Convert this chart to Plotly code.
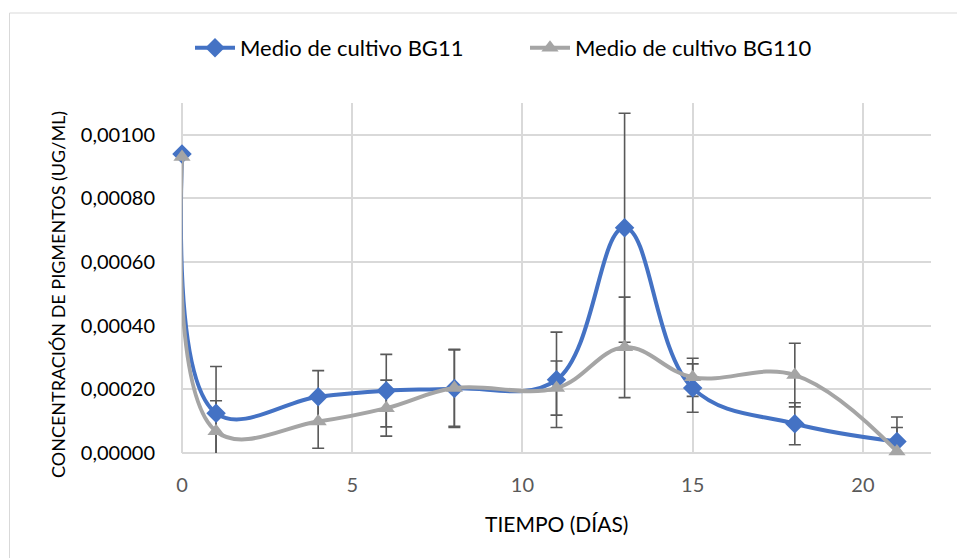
import plotly.graph_objects as go

# ---- data ----
dias = [0, 1, 4, 6, 8, 11, 13, 15, 18, 21]
bg11 = [0.00094, 0.000125, 0.000177, 0.000196, 0.000203, 0.00023, 0.000708, 0.000204, 0.000092, 0.000036]
bg11_err = [0, 0.000147, 0.000082, 0.000114, 0.000123, 0.00015, 0.00036, 0.000076, 0.000066, 0.000077]
bg110 = [0.00093, 0.000068, 0.000099, 0.000141, 0.000204, 0.000204, 0.000332, 0.000238, 0.000245, 0.000005]
bg110_err = [0, 0.000096, 0.000084, 0.000088, 0.00012, 0.000085, 0.000158, 0.00006, 0.0001, 0.000075]

series_names = ["Medio de cultivo BG11", "Medio de cultivo BG110"]
x_title = "TIEMPO (DÍAS)"
y_title = "CONCENTRACIÓN DE PIGMENTOS (UG/ML)"

BLUE = "#4472C4"
GRAY = "#A5A5A5"
ERR = "#595959"
GRID = "#D9D9D9"
FONT = "Lato"
SMOOTH = 1.1

W, H = 957, 558
ML, MR, MT, MB = 182, 26, 103, 105
PW, PH = W - ML - MR, H - MT - MB


def px_x(p):
    return (p - ML) / PW


def px_y(p):
    return (H - MB - p) / PH


fig = go.Figure()

# error bars (clipped to plot area)
for y, e in [(bg11, bg11_err), (bg110, bg110_err)]:
    fig.add_trace(go.Scatter(
        x=dias, y=y, mode="markers",
        marker=dict(size=1, color="rgba(0,0,0,0)"),
        error_y=dict(type="data", array=e, visible=True, color=ERR, thickness=1.6, width=6),
        showlegend=False, hoverinfo="skip", cliponaxis=True,
    ))

fig.add_trace(go.Scatter(
    x=dias, y=bg11, name=series_names[0], mode="lines+markers",
    line=dict(color=BLUE, width=4, shape="spline", smoothing=SMOOTH),
    marker=dict(symbol="diamond", size=15, color=BLUE),
    cliponaxis=False,
))
fig.add_trace(go.Scatter(
    x=dias, y=bg110, name=series_names[1], mode="lines+markers",
    line=dict(color=GRAY, width=4, shape="spline", smoothing=SMOOTH),
    marker=dict(symbol="triangle-up", size=15, color=GRAY),
    cliponaxis=False,
))

fig.update_layout(
    width=W, height=H,
    margin=dict(l=ML, r=MR, t=MT, b=MB),
    paper_bgcolor="white", plot_bgcolor="white",
    separators=",.",
    font=dict(family=FONT, size=20, color="black"),
    legend=dict(
        orientation="h", x=px_x(190), y=px_y(48), xanchor="left", yanchor="middle",
        font=dict(family=FONT, size=22, color="black"), itemwidth=40,
        entrywidth=280, entrywidthmode="pixels",
        bgcolor="rgba(0,0,0,0)",
    ),
    xaxis=dict(
        range=[0, 22], dtick=5, tick0=0,
        showgrid=True, gridcolor=GRID, gridwidth=1.5,
        zeroline=True, zerolinecolor=GRID, zerolinewidth=1.5,
        showline=False, ticks="outside", ticklen=14, tickcolor="rgba(0,0,0,0)",
        tickfont=dict(family=FONT, size=20, color="#595959"),
    ),
    yaxis=dict(
        range=[0, 0.0011], dtick=0.0002, tick0=0, tickformat=".5f",
        showgrid=True, gridcolor=GRID, gridwidth=1.5,
        zeroline=True, zerolinecolor=GRID, zerolinewidth=1.5,
        showline=False, ticks="outside", ticklen=22, tickcolor="rgba(0,0,0,0)",
        tickfont=dict(family=FONT, size=20, color="black"),
    ),
    annotations=[
        dict(text=x_title, xref="paper", yref="paper", x=px_x(556), y=px_y(523),
             xanchor="center", yanchor="middle", showarrow=False,
             font=dict(family=FONT, size=21, color="black")),
        dict(text=y_title, xref="paper", yref="paper", x=px_x(58), y=px_y(295),
             xanchor="center", yanchor="middle", showarrow=False, textangle=-90,
             font=dict(family=FONT, size=18, color="black")),
    ],
    shapes=[
        dict(type="rect", xref="paper", yref="paper",
             x0=px_x(9.5), x1=px_x(W + 5), y0=px_y(H + 5), y1=px_y(13),
             line=dict(color=GRID, width=1), fillcolor="rgba(0,0,0,0)", layer="below"),
    ],
)

fig.write_html("out.html", config={"displayModeBar": False},
               post_script="document.body.style.margin='0';")
